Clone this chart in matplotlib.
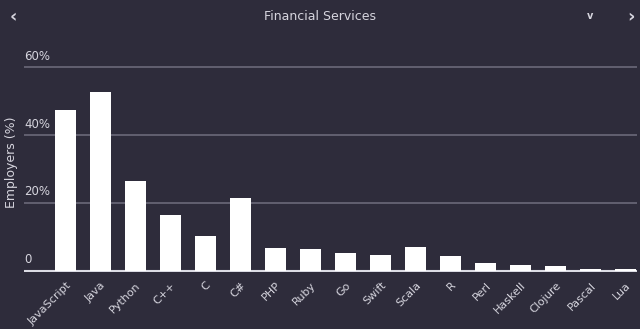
import matplotlib.pyplot as plt

# Share of employers using each language (financial services)
languages = ['JavaScript', 'Java', 'Python', 'C++', 'C', 'C#', 'PHP', 'Ruby', 'Go',
             'Swift', 'Scala', 'R', 'Perl', 'Haskell', 'Clojure', 'Pascal', 'Lua']
employers_pct = [47.4, 52.6, 26.5, 16.5, 10.3, 21.3, 6.7, 6.4, 5.1,
                 4.6, 6.9, 4.3, 2.4, 1.8, 1.3, 0.5, 0.5]
y_ticks = [0, 20, 40, 60]
y_tick_labels = ['0', '20%', '40%', '60%']

bg = '#2e2c3b'
text_col = '#d6d5de'

fig = plt.figure(figsize=(6.4, 3.29), dpi=100, facecolor=bg)
ax = fig.add_axes([24 / 640, 57 / 329, 613 / 640, 227 / 329], facecolor=bg)

x = range(len(languages))
ax.bar(x, employers_pct, width=0.6, color='white', zorder=5)

ax.set_xlim(-1.19, 16.32)
ax.set_ylim(-0.4, 66.6)

# horizontal gridlines with the value written just above each one
for val, lab in zip(y_ticks, y_tick_labels):
    if val == 0:
        ax.axhline(val - 0.2, color='#dcdce4', lw=1.5, zorder=4)
    else:
        ax.axhline(val, color='#6b6979', lw=1.2, zorder=1)
    ax.text(0, val + 1.3, lab, transform=ax.get_yaxis_transform(),
            color=text_col, fontsize=8.5, ha='left', va='bottom')

ax.set_yticks([])
ax.set_xticks(list(x))
ax.set_xticklabels(languages, rotation=45, ha='right', rotation_mode='anchor',
                   color=text_col, fontsize=8)
ax.tick_params(axis='x', length=0, pad=6)
for s in ax.spines.values():
    s.set_visible(False)

fig.text(12 / 640, 0.508, 'Employers (%)', rotation=90, color=text_col,
         fontsize=9, ha='center', va='center')

# header row
fig.text(0.5, 1 - 17 / 329, 'Financial Services', color=text_col, fontsize=9,
         ha='center', va='center')
fig.text(13 / 640, 1 - 17 / 329, '‹', color=text_col, fontsize=13,
         ha='center', va='center', fontweight='bold')
fig.text(631 / 640, 1 - 17 / 329, '›', color=text_col, fontsize=13,
         ha='center', va='center', fontweight='bold')
fig.text(590 / 640, 1 - 16 / 329, 'v', color=text_col, fontsize=7,
         ha='center', va='center', fontweight='bold')

fig.savefig('out.png', dpi=100, facecolor=bg)
